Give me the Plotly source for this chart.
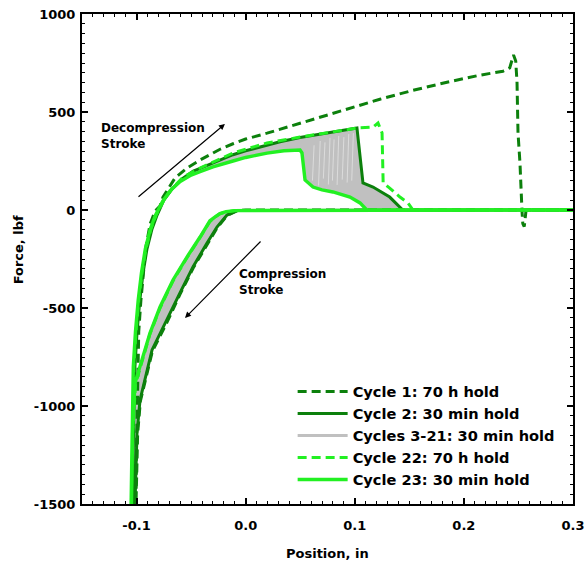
import plotly.graph_objects as go

# ---------------- data (position in, force lbf) ----------------
# Cycle 1: 70 h hold (dark green dashed)
c1_comp_x = [0.30, 0.0, -0.008, -0.017, -0.026, -0.035, -0.048, -0.060, -0.0715, -0.0855, -0.0965, -0.099, -0.1005]
c1_comp_y = [0, 0, -4, -28, -90, -172, -295, -428, -566, -720, -975, -1140, -1500]
c1_dec_x = [-0.1005, -0.100, -0.0995, -0.099, -0.098, -0.096, -0.0935, -0.0915, -0.0875, -0.083, -0.0785, -0.0758,
            -0.0648, -0.0538, -0.0418, -0.0235, -0.0116, 0.0, 0.0196, 0.0315, 0.050, 0.065, 0.080, 0.095,
            0.110, 0.123, 0.153, 0.1845, 0.2148, 0.2358, 0.242, 0.2445, 0.2455, 0.2475, 0.2487, 0.2496, 0.2514,
            0.2533, 0.254, 0.2553, 0.2565, 0.257, 0.30]
c1_dec_y = [-1500, -1200, -1000, -800, -620, -460, -320, -190, -70, -5, 20, 66,
            163, 214, 255, 310, 338, 362, 392, 412, 442, 468, 494, 519,
            543, 565, 610, 652, 688, 708, 725, 775, 791, 760, 650, 393, 240,
            -10, -70, -85, -40, 0, 0]

# Cycle 2: 30 min hold (dark green solid)
c2_comp_x = [0.30, 0.0, -0.008, -0.0171, -0.0263, -0.0354, -0.0483, -0.0602, -0.072, -0.0858, -0.0968, -0.0996, -0.1014]
c2_comp_y = [0, 0, -3, -26, -87, -168, -291, -423, -561, -714, -969, -1138, -1500]
c2_dec_x = [-0.1035, -0.103, -0.1025, -0.1015, -0.0995, -0.097, -0.094, -0.0905, -0.086, -0.0815, -0.075,
            -0.067, -0.058, -0.048, -0.0418, -0.030, -0.0116, 0.0, 0.0196, 0.0315, 0.0498, 0.080, 0.102,
            0.1075, 0.1167, 0.132, 0.1414, 0.144, 0.30]
c2_dec_y = [-1500, -1200, -1000, -800, -620, -460, -320, -200, -100, -30, 50,
            110, 160, 198, 212, 240, 282, 302, 332, 348, 370, 397, 418,
            138, 117, 66, 15, 0, 0]

# Cycles 3-21: faint gaps visible between the individual gray load drops
gray_gap_x = [0.0612, 0.0668, 0.0712, 0.0758, 0.0795, 0.0838, 0.0885, 0.0930, 0.0972]
gray_gap_top = [330, 352, 345, 368, 360, 378, 372, 388, 392]
gray_gap_bottom = [150, 125, 160, 130, 150, 128, 155, 140, 150]

# Cycle 22: 70 h hold (light green dashed)
c22_comp_x = [0.30, 0.0, -0.010, -0.018, -0.024, -0.029, -0.033, -0.0418, -0.054, -0.0666, -0.0785, -0.0877,
              -0.095, -0.101, -0.1035, -0.1045]
c22_comp_y = [0, 0, -3, -10, -20, -40, -60, -140, -245, -362, -500, -632, -770, -890, -1140, -1500]
c22_dec_x = [-0.1045, -0.104, -0.1035, -0.1025, -0.1005, -0.098, -0.095, -0.0915, -0.087, -0.082, -0.075,
             -0.067, -0.058, -0.0418, -0.0116, 0.0196, 0.0498, 0.080, 0.102, 0.1167, 0.1213, 0.125, 0.126,
             0.132, 0.1414, 0.1488, 0.1534, 0.30]
c22_dec_y = [-1500, -1200, -1000, -800, -620, -460, -320, -200, -100, -25, 50,
             112, 165, 214, 291, 342, 372, 398, 418, 423, 444, 393, 138,
             112, 66, 36, 0, 0]

# Cycle 23: 30 min hold (light green solid)
c23_comp_x = [0.30, 0.0, -0.010, -0.018, -0.0235, -0.028, -0.0327, -0.0418, -0.0538, -0.0666, -0.0785,
              -0.0877, -0.095, -0.1014, -0.104, -0.105]
c23_comp_y = [0, 0, -3, -8, -18, -35, -55, -138, -240, -357, -495, -628, -765, -883, -1138, -1500]
c23_dec_x = [-0.105, -0.1045, -0.104, -0.103, -0.101, -0.0985, -0.0955, -0.092, -0.0875, -0.083, -0.076,
             -0.069, -0.060, -0.050, -0.0418, -0.030, -0.0116, 0.0, 0.0196, 0.035, 0.0498, 0.0516, 0.0544,
             0.0617, 0.070, 0.080, 0.0956, 0.1048, 0.111, 0.30]
c23_dec_y = [-1500, -1250, -1000, -800, -620, -460, -320, -200, -100, -30, 45,
             100, 145, 178, 195, 220, 250, 268, 290, 302, 306, 291, 153,
             117, 103, 92, 66, 36, 0, 0]

x_ticks = [-0.1, 0.0, 0.1, 0.2, 0.3]
x_tick_labels = ["-0.1", "0.0", "0.1", "0.2", "0.3"]
y_ticks = [-1500, -1000, -500, 0, 500, 1000]
y_tick_labels = ["-1500", "-1000", "-500", "0", "500", "1000"]

series_names = ["Cycle 1: 70 h hold", "Cycle 2: 30 min hold", "Cycles 3-21: 30 min hold",
                "Cycle 22: 70 h hold", "Cycle 23: 30 min hold"]

DARK = "#0c800c"
LIME = "#22f022"
GRAY = "#c0c0c0"
FONT = "DejaVu Sans"

fig = go.Figure()

# gray band (cycles 3-21) lies between cycle 23 and cycle 2
u23x, u23y = c23_dec_x[:-1], c23_dec_y[:-1]
u2x, u2y = c2_dec_x[:-1], c2_dec_y[:-1]
fig.add_trace(go.Scatter(x=u23x + u2x[::-1], y=u23y + u2y[::-1], mode="lines", fill="toself",
                         fillcolor=GRAY, line=dict(color=GRAY, width=1.5), showlegend=False,
                         hoverinfo="skip"))
fig.add_trace(go.Scatter(x=c23_comp_x[1:] + c2_comp_x[1:][::-1], y=c23_comp_y[1:] + c2_comp_y[1:][::-1],
                         mode="lines", fill="toself", fillcolor=GRAY, line=dict(color=GRAY, width=1.5),
                         showlegend=False, hoverinfo="skip"))
gx, gy = [], []
for xg, top, bot in zip(gray_gap_x, gray_gap_top, gray_gap_bottom):
    gx += [xg + 0.0015, xg, None]
    gy += [top, bot, None]
fig.add_trace(go.Scatter(x=gx, y=gy, mode="lines", line=dict(color="rgba(255,255,255,0.55)", width=0.8),
                         showlegend=False, hoverinfo="skip"))
fig.add_trace(go.Scatter(x=[None], y=[None], mode="lines", name=series_names[2],
                         line=dict(color=GRAY, width=3), legendrank=3))

fig.add_trace(go.Scatter(x=c2_comp_x + c2_dec_x, y=c2_comp_y + c2_dec_y, mode="lines",
                         name=series_names[1], line=dict(color=DARK, width=3), legendrank=2))
fig.add_trace(go.Scatter(x=c1_comp_x + c1_dec_x, y=c1_comp_y + c1_dec_y, mode="lines",
                         name=series_names[0], line=dict(color=DARK, width=3, dash="9px,5px"),
                         legendrank=1))
fig.add_trace(go.Scatter(x=c22_comp_x + c22_dec_x, y=c22_comp_y + c22_dec_y, mode="lines",
                         name=series_names[3], line=dict(color=LIME, width=3, dash="9px,5px"),
                         legendrank=4))
fig.add_trace(go.Scatter(x=c23_comp_x + c23_dec_x, y=c23_comp_y + c23_dec_y, mode="lines",
                         name=series_names[4], line=dict(color=LIME, width=3.4), legendrank=5))

axis_common = dict(showline=True, linecolor="black", linewidth=2, mirror="allticks",
                   showgrid=False, zeroline=False, ticks="inside", ticklen=6, tickwidth=1.5,
                   tickcolor="black", automargin=False,
                   tickfont=dict(family=FONT, size=13, color="black", weight="bold"))

fig.update_layout(
    width=586, height=565, autosize=False,
    margin=dict(l=82, r=13, t=14, b=61),
    paper_bgcolor="white", plot_bgcolor="white",
    xaxis=dict(range=[-0.15, 0.3], tickmode="array", tickvals=x_ticks, ticktext=x_tick_labels,
               ticklabelstandoff=8,
               minor=dict(dtick=0.01, tick0=0, ticks="inside", ticklen=3, tickcolor="black", tickwidth=1),
               **axis_common),
    yaxis=dict(range=[-1500, 1000], tickmode="array", tickvals=y_ticks, ticktext=y_tick_labels,
               ticklabelstandoff=2,
               minor=dict(dtick=50, tick0=0, ticks="inside", ticklen=3, tickcolor="black", tickwidth=1),
               **axis_common),
    showlegend=True,
    legend=dict(x=0.429, y=0.262, xanchor="left", yanchor="top", bgcolor="rgba(0,0,0,0)",
                font=dict(family=FONT, size=14.6, color="black", weight="bold"),
                itemwidth=50, tracegroupgap=0),
    font=dict(family=FONT, color="black"),
)

annos = [
    dict(text="Position, in", xref="paper", yref="paper", x=0.5, y=-0.10, xanchor="center",
         yanchor="middle", showarrow=False, font=dict(family=FONT, size=13, weight="bold")),
    dict(text="Force, lbf", xref="paper", yref="paper", x=-0.130, y=0.518, xanchor="center",
         yanchor="middle", textangle=-90, showarrow=False, font=dict(family=FONT, size=13, weight="bold")),
    dict(text="Decompression<br>Stroke", xref="x", yref="y", x=-0.1344, y=380, xanchor="left",
         yanchor="middle", align="left", showarrow=False, font=dict(family=FONT, size=12, weight="bold")),
    dict(text="Compression<br>Stroke", xref="x", yref="y", x=-0.0075, y=-367, xanchor="left",
         yanchor="middle", align="left", showarrow=False, font=dict(family=FONT, size=12, weight="bold")),
    dict(text="", xref="x", yref="y", x=-0.019, y=439, axref="x", ayref="y", ax=-0.0996, ay=61,
         showarrow=True, arrowhead=2, arrowsize=1, arrowwidth=1.2, arrowcolor="black"),
    dict(text="", xref="x", yref="y", x=-0.0556, y=-551, axref="x", ayref="y", ax=0.015, ay=-153,
         showarrow=True, arrowhead=2, arrowsize=1, arrowwidth=1.2, arrowcolor="black"),
]
fig.update_layout(annotations=annos)

fig.write_html("out.html")
